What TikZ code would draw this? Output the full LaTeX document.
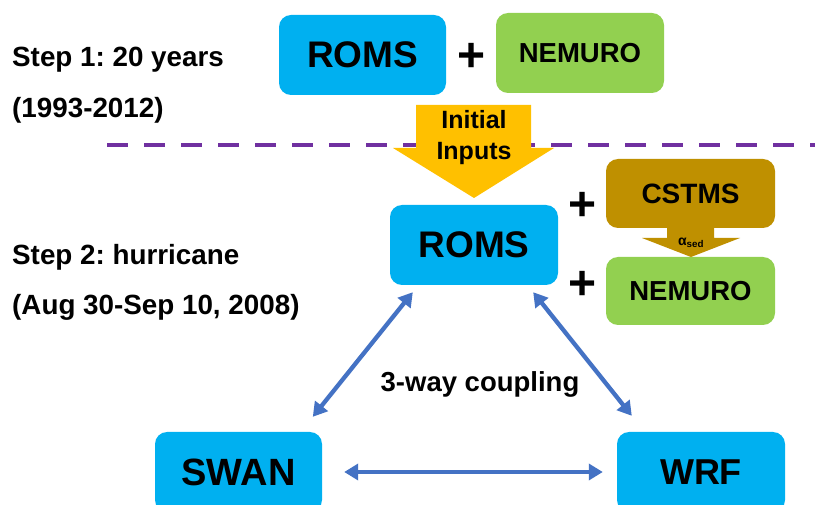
\documentclass[tikz,border=0pt]{standalone}
\usepackage{fontspec}
\setmainfont{Liberation Sans}
\usetikzlibrary{arrows.meta}
\definecolor{cblue}{HTML}{00B0F0}
\definecolor{cgreen}{HTML}{92D050}
\definecolor{cbrown}{HTML}{BF9000}
\definecolor{corange}{HTML}{FFC000}
\definecolor{cpurple}{HTML}{7030A0}
\definecolor{carrow}{HTML}{4472C4}
\frenchspacing
\tikzset{
  box/.style={rounded corners=12pt, inner sep=0pt, font=\bfseries},
  bluebox/.style={box, fill=cblue},
  greenbox/.style={box, fill=cgreen},
  brownbox/.style={box, fill=cbrown},
  lbl/.style={anchor=west, inner sep=0pt, font=\bfseries\fontsize{27.8}{30}\selectfont},
  plus/.style={inner sep=0pt, font=\bfseries\fontsize{48}{48}\selectfont},
  biarrow/.style={draw=carrow, line width=4.3pt, {Triangle[length=14pt,width=16pt]}-{Triangle[length=14pt,width=16pt]}}
}
\begin{document}
\begin{tikzpicture}[x=1pt,y=-1pt]
\useasboundingbox (0,0) rectangle (815,505);
\fill[white] (0,0) rectangle (815,505);

% step labels
\node[lbl] (s1a) at (12,60) {Step 1: 20 years};
\node[lbl] (s1b) at (12,110) {(1993-2012)};
\node[lbl] (s2a) at (12,257) {Step 2: hurricane};
\node[lbl] (s2b) at (12,307) {(Aug 30-Sep 10, 2008)};

% step 1 boxes
\node[bluebox, minimum width=167pt, minimum height=80pt, font=\bfseries\fontsize{37}{37}\selectfont] (roms1) at (362.5,55) {ROMS};
\node[greenbox, minimum width=168pt, minimum height=80pt, font=\bfseries\fontsize{27.5}{27.5}\selectfont] (nem1) at (580,53) {NEMURO};
\node[plus] (p1) at (472,57) {+};

% dashed divider
\coordinate (dl) at (107,145);
\coordinate (dr) at (815,145);
\draw[cpurple, line width=4.7pt, dash pattern=on 21pt off 16pt] (dl) -- (dr);

% initial inputs arrow
\fill[corange] (416,105) -- (531,105) -- (531,148) -- (554,148) -- (474,198) -- (393,148) -- (416,148) -- cycle;
\node[inner sep=0pt, align=center, font=\bfseries\fontsize{25}{31}\selectfont] (init) at (474,138) {Initial\\Inputs};

% step 2 boxes
\node[bluebox, minimum width=168pt, minimum height=80pt, font=\bfseries\fontsize{37}{37}\selectfont] (roms2) at (474,245) {ROMS};
\node[brownbox, minimum width=169pt, minimum height=69pt, font=\bfseries\fontsize{28}{28}\selectfont] (cstms) at (690.5,193.5) {CSTMS};
\node[greenbox, minimum width=169pt, minimum height=68pt, font=\bfseries\fontsize{27.5}{27.5}\selectfont] (nem2) at (690.5,291) {NEMURO};
\node[plus] (p2) at (583,206) {+};
\node[plus] (p3) at (583,285) {+};

% small arrow CSTMS -> NEMURO
\fill[cbrown] (667,227) -- (714,227) -- (714,238) -- (740,238) -- (691,257) -- (642,238) -- (667,238) -- cycle;
\node[inner sep=0pt, font=\bfseries\fontsize{14}{14}\selectfont] (ased) at (691,243) {α\textsubscript{sed}};

% bottom boxes
\node[bluebox, minimum width=167pt, minimum height=80pt, font=\bfseries\fontsize{38}{38}\selectfont] (swan) at (238.5,472) {SWAN};
\node[bluebox, minimum width=168pt, minimum height=80pt, font=\bfseries\fontsize{36}{36}\selectfont] (wrf) at (701,472) {WRF};

\node[inner sep=0pt, font=\bfseries\fontsize{27.5}{27.5}\selectfont] (coup) at (480,384) {3-way coupling};

% coupling arrows
\draw[biarrow] ([shift={(23,7)}]roms2.south west) -- ([shift={(158,-15)}]swan.north west);
\draw[biarrow] ([shift={(-25,7)}]roms2.south east) -- ([shift={(15,-16)}]wrf.north west);
\draw[biarrow] ([shift={(22,0)}]swan.east) -- ([shift={(-14,0)}]wrf.west);
\end{tikzpicture}
\end{document}
